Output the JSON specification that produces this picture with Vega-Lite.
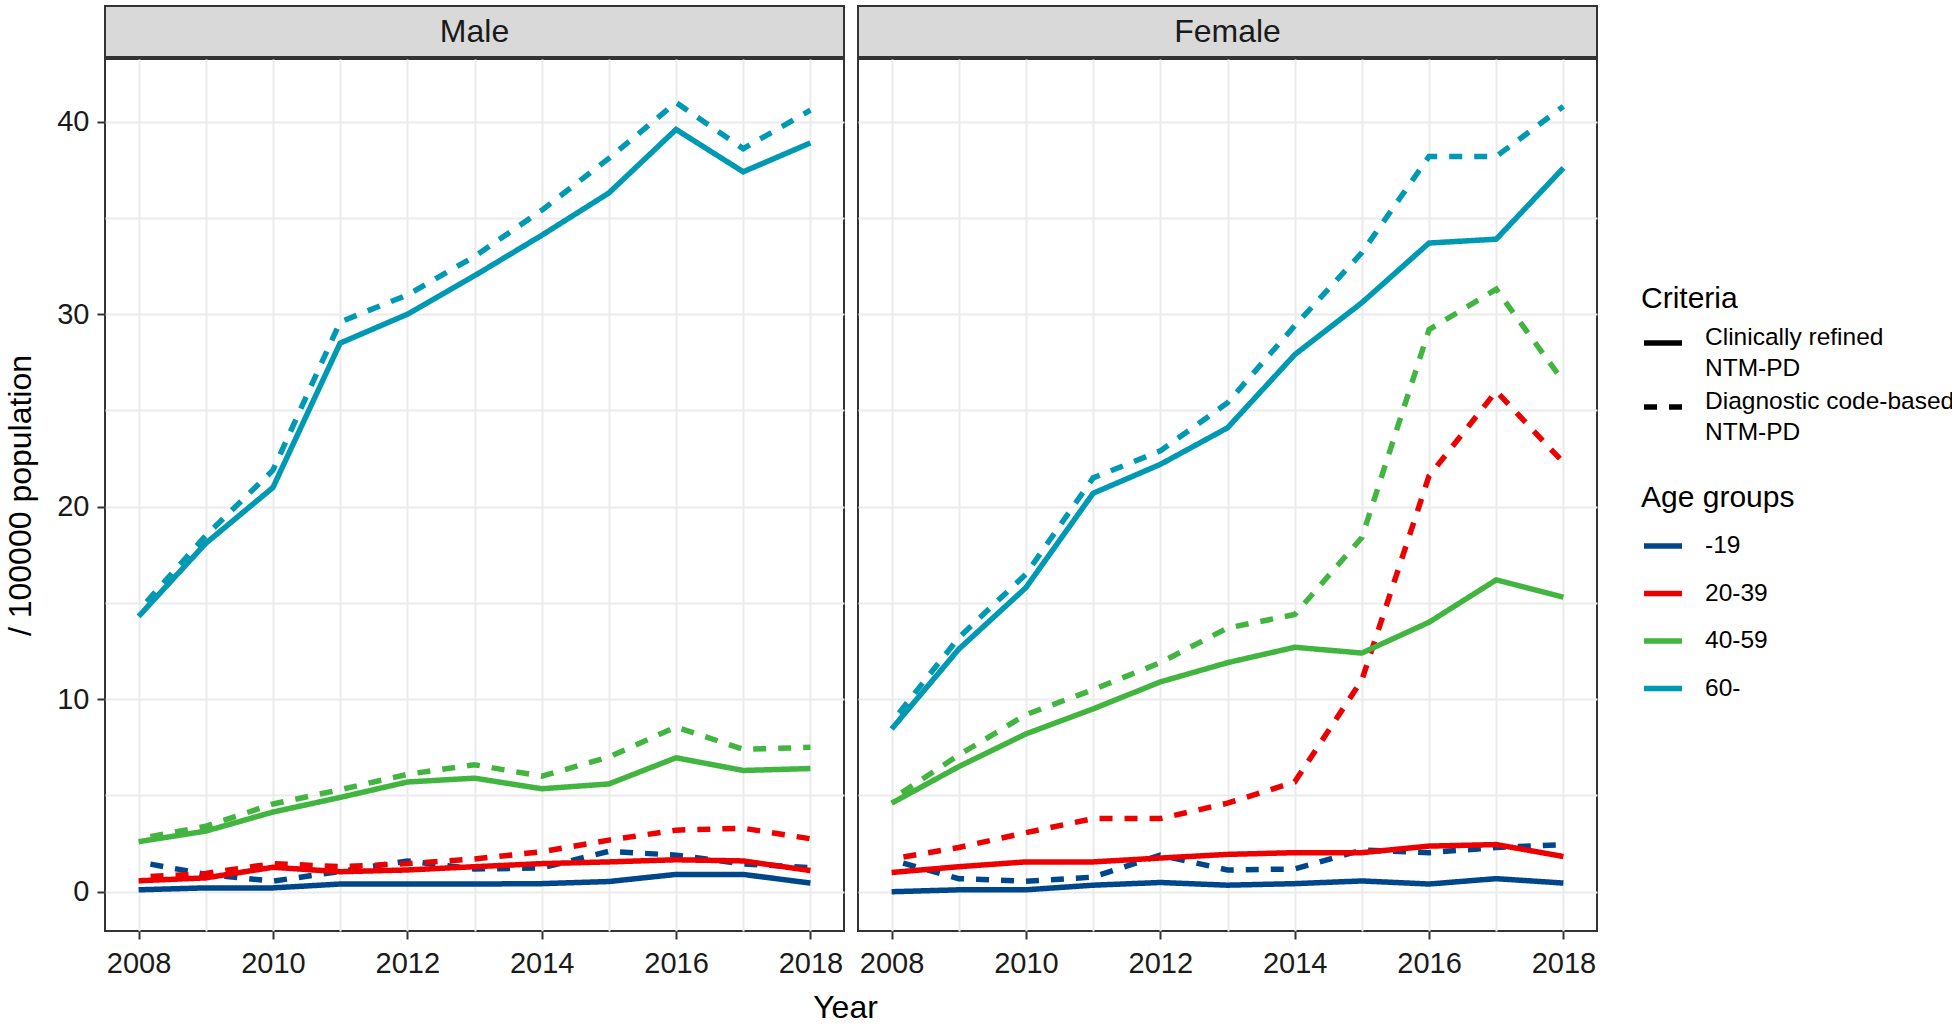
{
  "$schema": "https://vega.github.io/schema/vega-lite/v6.json",
  "padding": {"left": 3, "top": 5, "right": 0, "bottom": 0},
  "background": "white",
  "config": {
    "font": "Liberation Sans",
    "axis": {
      "domain": false,
      "tickColor": "#333333",
      "tickWidth": 2,
      "tickSize": 8,
      "labelFont": "Liberation Sans",
      "labelFontSize": 29,
      "labelColor": "#1A1A1A",
      "gridColor": "#EBEBEB",
      "gridWidth": 2,
      "titleFont": "Liberation Sans",
      "titleFontSize": 32,
      "titleFontWeight": "normal",
      "titleColor": "#000000",
      "labelOverlap": false,
      "labelFlush": false,
      "labelBound": false
    },
    "legend": {
      "titleFont": "Liberation Sans",
      "titleFontSize": 30,
      "titleFontWeight": "normal",
      "titleColor": "#000000",
      "labelFont": "Liberation Sans",
      "labelFontSize": 24.5,
      "labelColor": "#000000",
      "labelLimit": 400,
      "symbolType": "stroke",
      "symbolSize": 1444,
      "symbolStrokeWidth": 5.5,
      "labelOffset": 20,
      "padding": 0
    }
  },
  "data": {
    "values": [
      {"sex":"Male","age":"-19","criteria":"Clinically refined NTM-PD","year":2008,"rate":0.1},
      {"sex":"Male","age":"-19","criteria":"Clinically refined NTM-PD","year":2009,"rate":0.2},
      {"sex":"Male","age":"-19","criteria":"Clinically refined NTM-PD","year":2010,"rate":0.2},
      {"sex":"Male","age":"-19","criteria":"Clinically refined NTM-PD","year":2011,"rate":0.4},
      {"sex":"Male","age":"-19","criteria":"Clinically refined NTM-PD","year":2012,"rate":0.4},
      {"sex":"Male","age":"-19","criteria":"Clinically refined NTM-PD","year":2013,"rate":0.4},
      {"sex":"Male","age":"-19","criteria":"Clinically refined NTM-PD","year":2014,"rate":0.42},
      {"sex":"Male","age":"-19","criteria":"Clinically refined NTM-PD","year":2015,"rate":0.53},
      {"sex":"Male","age":"-19","criteria":"Clinically refined NTM-PD","year":2016,"rate":0.9},
      {"sex":"Male","age":"-19","criteria":"Clinically refined NTM-PD","year":2017,"rate":0.9},
      {"sex":"Male","age":"-19","criteria":"Clinically refined NTM-PD","year":2018,"rate":0.45},
      {"sex":"Male","age":"-19","criteria":"Diagnostic code-based NTM-PD","year":2008,"rate":1.55},
      {"sex":"Male","age":"-19","criteria":"Diagnostic code-based NTM-PD","year":2009,"rate":0.9},
      {"sex":"Male","age":"-19","criteria":"Diagnostic code-based NTM-PD","year":2010,"rate":0.55},
      {"sex":"Male","age":"-19","criteria":"Diagnostic code-based NTM-PD","year":2011,"rate":1.05},
      {"sex":"Male","age":"-19","criteria":"Diagnostic code-based NTM-PD","year":2012,"rate":1.6},
      {"sex":"Male","age":"-19","criteria":"Diagnostic code-based NTM-PD","year":2013,"rate":1.18},
      {"sex":"Male","age":"-19","criteria":"Diagnostic code-based NTM-PD","year":2014,"rate":1.24},
      {"sex":"Male","age":"-19","criteria":"Diagnostic code-based NTM-PD","year":2015,"rate":2.1},
      {"sex":"Male","age":"-19","criteria":"Diagnostic code-based NTM-PD","year":2016,"rate":1.9},
      {"sex":"Male","age":"-19","criteria":"Diagnostic code-based NTM-PD","year":2017,"rate":1.45},
      {"sex":"Male","age":"-19","criteria":"Diagnostic code-based NTM-PD","year":2018,"rate":1.25},
      {"sex":"Male","age":"20-39","criteria":"Clinically refined NTM-PD","year":2008,"rate":0.57},
      {"sex":"Male","age":"20-39","criteria":"Clinically refined NTM-PD","year":2009,"rate":0.72},
      {"sex":"Male","age":"20-39","criteria":"Clinically refined NTM-PD","year":2010,"rate":1.27},
      {"sex":"Male","age":"20-39","criteria":"Clinically refined NTM-PD","year":2011,"rate":1.04},
      {"sex":"Male","age":"20-39","criteria":"Clinically refined NTM-PD","year":2012,"rate":1.13},
      {"sex":"Male","age":"20-39","criteria":"Clinically refined NTM-PD","year":2013,"rate":1.3},
      {"sex":"Male","age":"20-39","criteria":"Clinically refined NTM-PD","year":2014,"rate":1.46},
      {"sex":"Male","age":"20-39","criteria":"Clinically refined NTM-PD","year":2015,"rate":1.55},
      {"sex":"Male","age":"20-39","criteria":"Clinically refined NTM-PD","year":2016,"rate":1.66},
      {"sex":"Male","age":"20-39","criteria":"Clinically refined NTM-PD","year":2017,"rate":1.6},
      {"sex":"Male","age":"20-39","criteria":"Clinically refined NTM-PD","year":2018,"rate":1.1},
      {"sex":"Male","age":"20-39","criteria":"Diagnostic code-based NTM-PD","year":2008,"rate":0.75},
      {"sex":"Male","age":"20-39","criteria":"Diagnostic code-based NTM-PD","year":2009,"rate":0.95},
      {"sex":"Male","age":"20-39","criteria":"Diagnostic code-based NTM-PD","year":2010,"rate":1.46},
      {"sex":"Male","age":"20-39","criteria":"Diagnostic code-based NTM-PD","year":2011,"rate":1.3},
      {"sex":"Male","age":"20-39","criteria":"Diagnostic code-based NTM-PD","year":2012,"rate":1.46},
      {"sex":"Male","age":"20-39","criteria":"Diagnostic code-based NTM-PD","year":2013,"rate":1.7},
      {"sex":"Male","age":"20-39","criteria":"Diagnostic code-based NTM-PD","year":2014,"rate":2.08},
      {"sex":"Male","age":"20-39","criteria":"Diagnostic code-based NTM-PD","year":2015,"rate":2.68},
      {"sex":"Male","age":"20-39","criteria":"Diagnostic code-based NTM-PD","year":2016,"rate":3.2},
      {"sex":"Male","age":"20-39","criteria":"Diagnostic code-based NTM-PD","year":2017,"rate":3.3},
      {"sex":"Male","age":"20-39","criteria":"Diagnostic code-based NTM-PD","year":2018,"rate":2.75},
      {"sex":"Male","age":"40-59","criteria":"Clinically refined NTM-PD","year":2008,"rate":2.6},
      {"sex":"Male","age":"40-59","criteria":"Clinically refined NTM-PD","year":2009,"rate":3.15},
      {"sex":"Male","age":"40-59","criteria":"Clinically refined NTM-PD","year":2010,"rate":4.14},
      {"sex":"Male","age":"40-59","criteria":"Clinically refined NTM-PD","year":2011,"rate":4.9},
      {"sex":"Male","age":"40-59","criteria":"Clinically refined NTM-PD","year":2012,"rate":5.7},
      {"sex":"Male","age":"40-59","criteria":"Clinically refined NTM-PD","year":2013,"rate":5.9},
      {"sex":"Male","age":"40-59","criteria":"Clinically refined NTM-PD","year":2014,"rate":5.35},
      {"sex":"Male","age":"40-59","criteria":"Clinically refined NTM-PD","year":2015,"rate":5.6},
      {"sex":"Male","age":"40-59","criteria":"Clinically refined NTM-PD","year":2016,"rate":6.96},
      {"sex":"Male","age":"40-59","criteria":"Clinically refined NTM-PD","year":2017,"rate":6.3},
      {"sex":"Male","age":"40-59","criteria":"Clinically refined NTM-PD","year":2018,"rate":6.4},
      {"sex":"Male","age":"40-59","criteria":"Diagnostic code-based NTM-PD","year":2008,"rate":2.75},
      {"sex":"Male","age":"40-59","criteria":"Diagnostic code-based NTM-PD","year":2009,"rate":3.4},
      {"sex":"Male","age":"40-59","criteria":"Diagnostic code-based NTM-PD","year":2010,"rate":4.56},
      {"sex":"Male","age":"40-59","criteria":"Diagnostic code-based NTM-PD","year":2011,"rate":5.3},
      {"sex":"Male","age":"40-59","criteria":"Diagnostic code-based NTM-PD","year":2012,"rate":6.1},
      {"sex":"Male","age":"40-59","criteria":"Diagnostic code-based NTM-PD","year":2013,"rate":6.6},
      {"sex":"Male","age":"40-59","criteria":"Diagnostic code-based NTM-PD","year":2014,"rate":6.0},
      {"sex":"Male","age":"40-59","criteria":"Diagnostic code-based NTM-PD","year":2015,"rate":7.0},
      {"sex":"Male","age":"40-59","criteria":"Diagnostic code-based NTM-PD","year":2016,"rate":8.56},
      {"sex":"Male","age":"40-59","criteria":"Diagnostic code-based NTM-PD","year":2017,"rate":7.4},
      {"sex":"Male","age":"40-59","criteria":"Diagnostic code-based NTM-PD","year":2018,"rate":7.5},
      {"sex":"Male","age":"60-","criteria":"Clinically refined NTM-PD","year":2008,"rate":14.3},
      {"sex":"Male","age":"60-","criteria":"Clinically refined NTM-PD","year":2009,"rate":18.1},
      {"sex":"Male","age":"60-","criteria":"Clinically refined NTM-PD","year":2010,"rate":21.0},
      {"sex":"Male","age":"60-","criteria":"Clinically refined NTM-PD","year":2011,"rate":28.5},
      {"sex":"Male","age":"60-","criteria":"Clinically refined NTM-PD","year":2012,"rate":30.0},
      {"sex":"Male","age":"60-","criteria":"Clinically refined NTM-PD","year":2013,"rate":32.0},
      {"sex":"Male","age":"60-","criteria":"Clinically refined NTM-PD","year":2014,"rate":34.1},
      {"sex":"Male","age":"60-","criteria":"Clinically refined NTM-PD","year":2015,"rate":36.3},
      {"sex":"Male","age":"60-","criteria":"Clinically refined NTM-PD","year":2016,"rate":39.6},
      {"sex":"Male","age":"60-","criteria":"Clinically refined NTM-PD","year":2017,"rate":37.4},
      {"sex":"Male","age":"60-","criteria":"Clinically refined NTM-PD","year":2018,"rate":38.9},
      {"sex":"Male","age":"60-","criteria":"Diagnostic code-based NTM-PD","year":2008,"rate":14.6},
      {"sex":"Male","age":"60-","criteria":"Diagnostic code-based NTM-PD","year":2009,"rate":18.5},
      {"sex":"Male","age":"60-","criteria":"Diagnostic code-based NTM-PD","year":2010,"rate":21.9},
      {"sex":"Male","age":"60-","criteria":"Diagnostic code-based NTM-PD","year":2011,"rate":29.6},
      {"sex":"Male","age":"60-","criteria":"Diagnostic code-based NTM-PD","year":2012,"rate":31.0},
      {"sex":"Male","age":"60-","criteria":"Diagnostic code-based NTM-PD","year":2013,"rate":33.0},
      {"sex":"Male","age":"60-","criteria":"Diagnostic code-based NTM-PD","year":2014,"rate":35.4},
      {"sex":"Male","age":"60-","criteria":"Diagnostic code-based NTM-PD","year":2015,"rate":38.1},
      {"sex":"Male","age":"60-","criteria":"Diagnostic code-based NTM-PD","year":2016,"rate":41.0},
      {"sex":"Male","age":"60-","criteria":"Diagnostic code-based NTM-PD","year":2017,"rate":38.6},
      {"sex":"Male","age":"60-","criteria":"Diagnostic code-based NTM-PD","year":2018,"rate":40.6},
      {"sex":"Female","age":"-19","criteria":"Clinically refined NTM-PD","year":2008,"rate":0.0},
      {"sex":"Female","age":"-19","criteria":"Clinically refined NTM-PD","year":2009,"rate":0.1},
      {"sex":"Female","age":"-19","criteria":"Clinically refined NTM-PD","year":2010,"rate":0.1},
      {"sex":"Female","age":"-19","criteria":"Clinically refined NTM-PD","year":2011,"rate":0.34},
      {"sex":"Female","age":"-19","criteria":"Clinically refined NTM-PD","year":2012,"rate":0.48},
      {"sex":"Female","age":"-19","criteria":"Clinically refined NTM-PD","year":2013,"rate":0.34},
      {"sex":"Female","age":"-19","criteria":"Clinically refined NTM-PD","year":2014,"rate":0.42},
      {"sex":"Female","age":"-19","criteria":"Clinically refined NTM-PD","year":2015,"rate":0.56},
      {"sex":"Female","age":"-19","criteria":"Clinically refined NTM-PD","year":2016,"rate":0.4},
      {"sex":"Female","age":"-19","criteria":"Clinically refined NTM-PD","year":2017,"rate":0.68},
      {"sex":"Female","age":"-19","criteria":"Clinically refined NTM-PD","year":2018,"rate":0.45},
      {"sex":"Female","age":"-19","criteria":"Diagnostic code-based NTM-PD","year":2008,"rate":1.65},
      {"sex":"Female","age":"-19","criteria":"Diagnostic code-based NTM-PD","year":2009,"rate":0.68},
      {"sex":"Female","age":"-19","criteria":"Diagnostic code-based NTM-PD","year":2010,"rate":0.54},
      {"sex":"Female","age":"-19","criteria":"Diagnostic code-based NTM-PD","year":2011,"rate":0.76},
      {"sex":"Female","age":"-19","criteria":"Diagnostic code-based NTM-PD","year":2012,"rate":1.9},
      {"sex":"Female","age":"-19","criteria":"Diagnostic code-based NTM-PD","year":2013,"rate":1.13},
      {"sex":"Female","age":"-19","criteria":"Diagnostic code-based NTM-PD","year":2014,"rate":1.18},
      {"sex":"Female","age":"-19","criteria":"Diagnostic code-based NTM-PD","year":2015,"rate":2.17},
      {"sex":"Female","age":"-19","criteria":"Diagnostic code-based NTM-PD","year":2016,"rate":2.03},
      {"sex":"Female","age":"-19","criteria":"Diagnostic code-based NTM-PD","year":2017,"rate":2.3},
      {"sex":"Female","age":"-19","criteria":"Diagnostic code-based NTM-PD","year":2018,"rate":2.45},
      {"sex":"Female","age":"20-39","criteria":"Clinically refined NTM-PD","year":2008,"rate":1.0},
      {"sex":"Female","age":"20-39","criteria":"Clinically refined NTM-PD","year":2009,"rate":1.3},
      {"sex":"Female","age":"20-39","criteria":"Clinically refined NTM-PD","year":2010,"rate":1.55},
      {"sex":"Female","age":"20-39","criteria":"Clinically refined NTM-PD","year":2011,"rate":1.55},
      {"sex":"Female","age":"20-39","criteria":"Clinically refined NTM-PD","year":2012,"rate":1.75},
      {"sex":"Female","age":"20-39","criteria":"Clinically refined NTM-PD","year":2013,"rate":1.94},
      {"sex":"Female","age":"20-39","criteria":"Clinically refined NTM-PD","year":2014,"rate":2.03},
      {"sex":"Female","age":"20-39","criteria":"Clinically refined NTM-PD","year":2015,"rate":2.03},
      {"sex":"Female","age":"20-39","criteria":"Clinically refined NTM-PD","year":2016,"rate":2.37},
      {"sex":"Female","age":"20-39","criteria":"Clinically refined NTM-PD","year":2017,"rate":2.45},
      {"sex":"Female","age":"20-39","criteria":"Clinically refined NTM-PD","year":2018,"rate":1.83},
      {"sex":"Female","age":"20-39","criteria":"Diagnostic code-based NTM-PD","year":2008,"rate":1.7},
      {"sex":"Female","age":"20-39","criteria":"Diagnostic code-based NTM-PD","year":2009,"rate":2.3},
      {"sex":"Female","age":"20-39","criteria":"Diagnostic code-based NTM-PD","year":2010,"rate":3.07},
      {"sex":"Female","age":"20-39","criteria":"Diagnostic code-based NTM-PD","year":2011,"rate":3.8},
      {"sex":"Female","age":"20-39","criteria":"Diagnostic code-based NTM-PD","year":2012,"rate":3.8},
      {"sex":"Female","age":"20-39","criteria":"Diagnostic code-based NTM-PD","year":2013,"rate":4.6},
      {"sex":"Female","age":"20-39","criteria":"Diagnostic code-based NTM-PD","year":2014,"rate":5.7},
      {"sex":"Female","age":"20-39","criteria":"Diagnostic code-based NTM-PD","year":2015,"rate":11.0},
      {"sex":"Female","age":"20-39","criteria":"Diagnostic code-based NTM-PD","year":2016,"rate":21.6},
      {"sex":"Female","age":"20-39","criteria":"Diagnostic code-based NTM-PD","year":2017,"rate":26.0},
      {"sex":"Female","age":"20-39","criteria":"Diagnostic code-based NTM-PD","year":2018,"rate":22.3},
      {"sex":"Female","age":"40-59","criteria":"Clinically refined NTM-PD","year":2008,"rate":4.6},
      {"sex":"Female","age":"40-59","criteria":"Clinically refined NTM-PD","year":2009,"rate":6.5},
      {"sex":"Female","age":"40-59","criteria":"Clinically refined NTM-PD","year":2010,"rate":8.2},
      {"sex":"Female","age":"40-59","criteria":"Clinically refined NTM-PD","year":2011,"rate":9.5},
      {"sex":"Female","age":"40-59","criteria":"Clinically refined NTM-PD","year":2012,"rate":10.9},
      {"sex":"Female","age":"40-59","criteria":"Clinically refined NTM-PD","year":2013,"rate":11.9},
      {"sex":"Female","age":"40-59","criteria":"Clinically refined NTM-PD","year":2014,"rate":12.7},
      {"sex":"Female","age":"40-59","criteria":"Clinically refined NTM-PD","year":2015,"rate":12.4},
      {"sex":"Female","age":"40-59","criteria":"Clinically refined NTM-PD","year":2016,"rate":14.0},
      {"sex":"Female","age":"40-59","criteria":"Clinically refined NTM-PD","year":2017,"rate":16.2},
      {"sex":"Female","age":"40-59","criteria":"Clinically refined NTM-PD","year":2018,"rate":15.3},
      {"sex":"Female","age":"40-59","criteria":"Diagnostic code-based NTM-PD","year":2008,"rate":4.8},
      {"sex":"Female","age":"40-59","criteria":"Diagnostic code-based NTM-PD","year":2009,"rate":7.1},
      {"sex":"Female","age":"40-59","criteria":"Diagnostic code-based NTM-PD","year":2010,"rate":9.2},
      {"sex":"Female","age":"40-59","criteria":"Diagnostic code-based NTM-PD","year":2011,"rate":10.5},
      {"sex":"Female","age":"40-59","criteria":"Diagnostic code-based NTM-PD","year":2012,"rate":11.9},
      {"sex":"Female","age":"40-59","criteria":"Diagnostic code-based NTM-PD","year":2013,"rate":13.7},
      {"sex":"Female","age":"40-59","criteria":"Diagnostic code-based NTM-PD","year":2014,"rate":14.4},
      {"sex":"Female","age":"40-59","criteria":"Diagnostic code-based NTM-PD","year":2015,"rate":18.4},
      {"sex":"Female","age":"40-59","criteria":"Diagnostic code-based NTM-PD","year":2016,"rate":29.2},
      {"sex":"Female","age":"40-59","criteria":"Diagnostic code-based NTM-PD","year":2017,"rate":31.3},
      {"sex":"Female","age":"40-59","criteria":"Diagnostic code-based NTM-PD","year":2018,"rate":26.5},
      {"sex":"Female","age":"60-","criteria":"Clinically refined NTM-PD","year":2008,"rate":8.45},
      {"sex":"Female","age":"60-","criteria":"Clinically refined NTM-PD","year":2009,"rate":12.6},
      {"sex":"Female","age":"60-","criteria":"Clinically refined NTM-PD","year":2010,"rate":15.8},
      {"sex":"Female","age":"60-","criteria":"Clinically refined NTM-PD","year":2011,"rate":20.7},
      {"sex":"Female","age":"60-","criteria":"Clinically refined NTM-PD","year":2012,"rate":22.2},
      {"sex":"Female","age":"60-","criteria":"Clinically refined NTM-PD","year":2013,"rate":24.1},
      {"sex":"Female","age":"60-","criteria":"Clinically refined NTM-PD","year":2014,"rate":27.9},
      {"sex":"Female","age":"60-","criteria":"Clinically refined NTM-PD","year":2015,"rate":30.6},
      {"sex":"Female","age":"60-","criteria":"Clinically refined NTM-PD","year":2016,"rate":33.7},
      {"sex":"Female","age":"60-","criteria":"Clinically refined NTM-PD","year":2017,"rate":33.9},
      {"sex":"Female","age":"60-","criteria":"Clinically refined NTM-PD","year":2018,"rate":37.6},
      {"sex":"Female","age":"60-","criteria":"Diagnostic code-based NTM-PD","year":2008,"rate":8.8},
      {"sex":"Female","age":"60-","criteria":"Diagnostic code-based NTM-PD","year":2009,"rate":13.2},
      {"sex":"Female","age":"60-","criteria":"Diagnostic code-based NTM-PD","year":2010,"rate":16.5},
      {"sex":"Female","age":"60-","criteria":"Diagnostic code-based NTM-PD","year":2011,"rate":21.5},
      {"sex":"Female","age":"60-","criteria":"Diagnostic code-based NTM-PD","year":2012,"rate":22.9},
      {"sex":"Female","age":"60-","criteria":"Diagnostic code-based NTM-PD","year":2013,"rate":25.4},
      {"sex":"Female","age":"60-","criteria":"Diagnostic code-based NTM-PD","year":2014,"rate":29.4},
      {"sex":"Female","age":"60-","criteria":"Diagnostic code-based NTM-PD","year":2015,"rate":33.2},
      {"sex":"Female","age":"60-","criteria":"Diagnostic code-based NTM-PD","year":2016,"rate":38.2},
      {"sex":"Female","age":"60-","criteria":"Diagnostic code-based NTM-PD","year":2017,"rate":38.2},
      {"sex":"Female","age":"60-","criteria":"Diagnostic code-based NTM-PD","year":2018,"rate":40.8}
    ]
  },
  "resolve": {"scale": {"color": "shared", "strokeDash": "shared"}},
  "spacing": 0,
  "vconcat": [
    {
      "spacing": 14,
      "bounds": "flush",
      "hconcat": [
        {
          "width": 739,
          "height": 51,
          "view": {"fill": "#D9D9D9", "stroke": "#333333", "strokeWidth": 2},
          "transform": [{"filter": "datum.sex === 'Male' && datum.year === 2008 && datum.age === '-19' && datum.criteria === 'Clinically refined NTM-PD'"}],
          "mark": {"type": "text", "fontSize": 32, "color": "#1A1A1A", "font": "Liberation Sans", "baseline": "middle", "align": "center"},
          "encoding": {"text": {"field": "sex", "type": "nominal"}}
        },
        {
          "width": 739,
          "height": 51,
          "view": {"fill": "#D9D9D9", "stroke": "#333333", "strokeWidth": 2},
          "transform": [{"filter": "datum.sex === 'Female' && datum.year === 2008 && datum.age === '-19' && datum.criteria === 'Clinically refined NTM-PD'"}],
          "mark": {"type": "text", "fontSize": 32, "color": "#1A1A1A", "font": "Liberation Sans", "baseline": "middle", "align": "center"},
          "encoding": {"text": {"field": "sex", "type": "nominal"}}
        }
      ]
    },
    {
      "spacing": 14,
      "bounds": "flush",
      "resolve": {"scale": {"color": "shared", "strokeDash": "shared"}},
      "hconcat": [
        {
          "width": 739,
          "height": 872,
          "view": {"stroke": "#333333", "strokeWidth": 2},
          "transform": [{"filter": "datum.sex === 'Male'"}],
          "mark": {"type": "line", "strokeWidth": 5.5, "strokeDashOffset": 13},
          "encoding": {
            "x": {
              "field": "year", "type": "quantitative",
              "scale": {"domain": [2007.5, 2018.5], "nice": false, "zero": false},
              "axis": {
                "values": [2008, 2009, 2010, 2011, 2012, 2013, 2014, 2015, 2016, 2017, 2018],
                "format": "d",
                "labelExpr": "datum.value % 2 === 0 ? datum.label : ''",
                "tickOpacity": {"condition": {"test": "datum.value % 2 !== 0", "value": 0}, "value": 1},
                "labelPadding": 10,
                "title": "Year",
                "titleX": 740,
                "titlePadding": 14
              }
            },
            "y": {
              "field": "rate", "type": "quantitative",
              "scale": {"domain": [-2.04, 43.26], "nice": false, "zero": false},
              "axis": {
                "values": [0, 5, 10, 15, 20, 25, 30, 35, 40],
                "labelExpr": "datum.value % 10 === 0 ? datum.label : ''",
                "tickOpacity": {"condition": {"test": "datum.value % 10 !== 0", "value": 0}, "value": 1},
                "labelPadding": 8,
                "title": "/ 100000 population",
                "titlePadding": 19
              }
            },
            "color": {
              "field": "age", "type": "nominal",
              "scale": {"domain": ["-19", "20-39", "40-59", "60-"], "range": ["#00468B", "#ED0000", "#42B540", "#0099B4"]},
              "legend": {"title": "Age groups", "orient": "none", "legendX": 1536, "legendY": 477, "titlePadding": 11, "rowPadding": 13.5}
            },
            "strokeDash": {
              "field": "criteria", "type": "nominal",
              "scale": {"domain": ["Clinically refined NTM-PD", "Diagnostic code-based NTM-PD"], "range": [[1, 0], [13, 12]]},
              "legend": {
                "title": "Criteria", "orient": "none", "legendX": 1536, "legendY": 278, "titlePadding": 7, "rowPadding": 4,
                "symbolStrokeColor": "#000000",
                "labelExpr": "datum.label === 'Clinically refined NTM-PD' ? ['Clinically refined', 'NTM-PD'] : ['Diagnostic code-based', 'NTM-PD']",
                "encode": {"labels": {"update": {"lineHeight": {"value": 31}, "dy": {"value": -5}}}}
              }
            }
          }
        },
        {
          "width": 739,
          "height": 872,
          "view": {"stroke": "#333333", "strokeWidth": 2},
          "transform": [{"filter": "datum.sex === 'Female'"}],
          "mark": {"type": "line", "strokeWidth": 5.5, "strokeDashOffset": 13},
          "encoding": {
            "x": {
              "field": "year", "type": "quantitative",
              "scale": {"domain": [2007.5, 2018.5], "nice": false, "zero": false},
              "axis": {
                "values": [2008, 2009, 2010, 2011, 2012, 2013, 2014, 2015, 2016, 2017, 2018],
                "format": "d",
                "labelExpr": "datum.value % 2 === 0 ? datum.label : ''",
                "tickOpacity": {"condition": {"test": "datum.value % 2 !== 0", "value": 0}, "value": 1},
                "labelPadding": 10,
                "title": null
              }
            },
            "y": {
              "field": "rate", "type": "quantitative",
              "scale": {"domain": [-2.04, 43.26], "nice": false, "zero": false},
              "axis": {
                "values": [0, 5, 10, 15, 20, 25, 30, 35, 40],
                "labels": false,
                "ticks": false,
                "title": null,
                "minExtent": 0,
                "maxExtent": 0
              }
            },
            "color": {
              "field": "age", "type": "nominal",
              "scale": {"domain": ["-19", "20-39", "40-59", "60-"], "range": ["#00468B", "#ED0000", "#42B540", "#0099B4"]},
              "legend": {"title": "Age groups", "orient": "none", "legendX": 1536, "legendY": 477, "titlePadding": 11, "rowPadding": 13.5}
            },
            "strokeDash": {
              "field": "criteria", "type": "nominal",
              "scale": {"domain": ["Clinically refined NTM-PD", "Diagnostic code-based NTM-PD"], "range": [[1, 0], [13, 12]]},
              "legend": {
                "title": "Criteria", "orient": "none", "legendX": 1536, "legendY": 278, "titlePadding": 7, "rowPadding": 4,
                "symbolStrokeColor": "#000000",
                "labelExpr": "datum.label === 'Clinically refined NTM-PD' ? ['Clinically refined', 'NTM-PD'] : ['Diagnostic code-based', 'NTM-PD']",
                "encode": {"labels": {"update": {"lineHeight": {"value": 31}, "dy": {"value": -5}}}}
              }
            }
          }
        }
      ]
    }
  ]
}
